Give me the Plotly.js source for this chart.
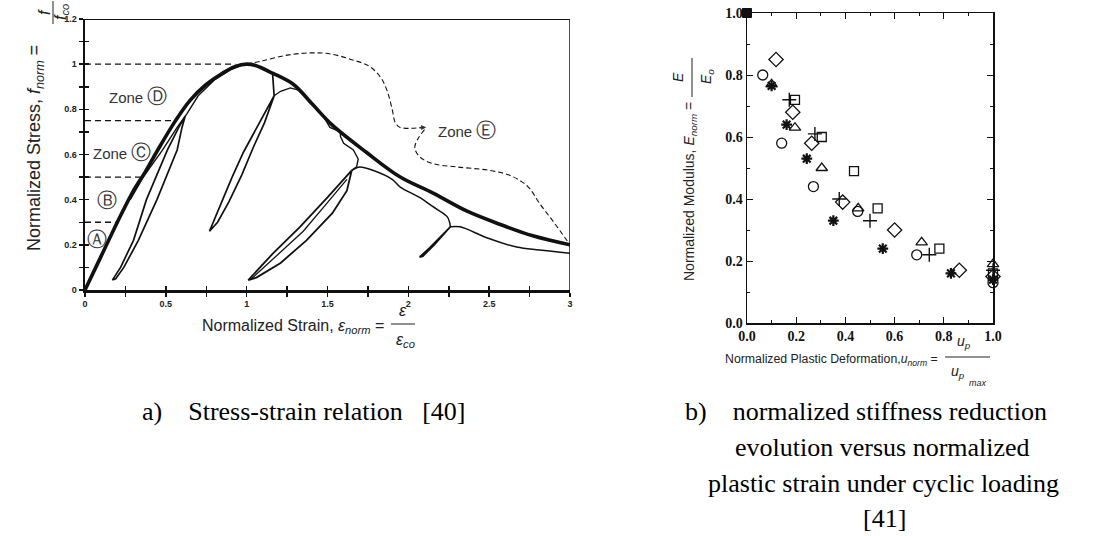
<!DOCTYPE html>
<html><head><meta charset="utf-8">
<script src="https://cdn.plot.ly/plotly-3.0.1.min.js"></script>
<style>html,body{margin:0;padding:0;background:#fff;}#chart{width:1108px;height:536px;}</style>
</head><body><div id="chart"></div>
<script>
// ---------- Panel a: stress-strain (normalized) ----------
const envX = [0,0.1,0.2,0.3,0.37,0.45,0.56,0.65,0.75,0.85,0.93,1.0,1.05,1.16,1.29,1.41,1.53,1.74,1.95,2.15,2.36,2.57,2.77,3.0];
const envY = [0,0.15,0.3,0.44,0.52,0.62,0.75,0.84,0.91,0.96,0.99,1.0,0.995,0.96,0.91,0.82,0.73,0.61,0.50,0.43,0.35,0.29,0.24,0.20];

const zoneEX1 = [1.0,1.1,1.25,1.4,1.52,1.65,1.76,1.83,1.87,1.90,1.92,1.95,2.10];
const zoneEY1 = [1.0,1.015,1.04,1.05,1.045,1.02,0.99,0.94,0.88,0.80,0.74,0.72,0.72];
const zoneEX2 = [2.10,2.06,2.04,2.07,2.15,2.3,2.5,2.62,2.70,2.75,2.81,2.90,3.0];
const zoneEY2 = [0.71,0.67,0.63,0.59,0.56,0.545,0.53,0.51,0.48,0.45,0.385,0.30,0.20];

const zoneLevels = [1.0,0.75,0.5,0.3];
const zoneLevelEnds = [0.93,0.54,0.34,0.19];

const loop1X = [0.62,0.60,0.57,0.445,0.33,0.24,0.19,0.17,0.22,0.30,0.38,0.51,0.58,0.62];
const loop1Y = [0.77,0.72,0.62,0.40,0.22,0.10,0.05,0.045,0.10,0.22,0.40,0.62,0.72,0.77];
const nearEnvX = [0.28,0.36,0.48,0.57,0.63,0.70,0.80,0.90,0.97];
const nearEnvY = [0.40,0.50,0.62,0.72,0.78,0.86,0.93,0.975,0.995];

const loop2X = [1.16,1.17,1.11,1.04,0.97,0.89,0.82,0.77,0.84,0.91,0.98,1.07,1.17];
const loop2Y = [0.96,0.86,0.74,0.63,0.51,0.39,0.30,0.26,0.38,0.50,0.61,0.73,0.86];
const jagX = [1.17,1.21,1.27,1.32,1.37,1.41,1.47,1.515,1.55,1.58,1.58,1.60,1.66,1.69,1.68,1.65];
const jagY = [0.86,0.88,0.895,0.885,0.85,0.82,0.775,0.72,0.71,0.70,0.68,0.65,0.62,0.58,0.545,0.53];

const loop3X = [1.65,1.62,1.53,1.37,1.21,1.06,1.01,1.16,1.33,1.50,1.65];
const loop3Y = [0.53,0.44,0.34,0.22,0.12,0.055,0.044,0.16,0.28,0.41,0.53];
const loop3InX = [1.03,1.20,1.35,1.48,1.56,1.62];
const loop3InY = [0.05,0.16,0.26,0.37,0.44,0.49];

const branch2X = [1.65,1.70,1.78,1.90,1.95,2.07,2.15,2.24,2.255,2.26];
const branch2Y = [0.53,0.545,0.53,0.49,0.456,0.41,0.37,0.325,0.30,0.28];
const branch3X = [2.26,2.32,2.49,2.67,2.81,3.0];
const branch3Y = [0.28,0.28,0.23,0.19,0.177,0.163];
const loop4X = [2.26,2.20,2.13,2.07,2.09,2.16,2.22,2.26];
const loop4Y = [0.28,0.235,0.185,0.146,0.15,0.20,0.25,0.28];

const xTickValsA = [0,0.25,0.5,0.75,1,1.25,1.5,1.75,2,2.25,2.5,2.75,3];
const xTickTextA = ['0','','0.5','','1','','1.5','','2','','2.5','','3'];
const yTickValsA = [0,0.1,0.2,0.3,0.4,0.5,0.6,0.7,0.8,0.9,1.0,1.1,1.2];
const yTickTextA = ['0','','0.2','','0.4','','0.6','','0.8','','1','','1.2'];

// ---------- Panel b: normalized modulus vs plastic deformation ----------
const circX = [0.064,0.141,0.27,0.45,0.69,1.0];
const circY = [0.80,0.58,0.44,0.36,0.22,0.13];
const triX  = [0.10,0.195,0.304,0.452,0.71,1.0];
const triY  = [0.77,0.63,0.50,0.37,0.26,0.19];
const sqX   = [0.195,0.304,0.435,0.531,0.782,1.0];
const sqY   = [0.72,0.60,0.49,0.37,0.24,0.16];
const diaX  = [0.118,0.186,0.263,0.389,0.60,0.863,1.0];
const diaY  = [0.85,0.68,0.58,0.39,0.30,0.17,0.15];
const plusX = [0.172,0.276,0.375,0.50,0.741,1.0];
const plusY = [0.72,0.61,0.40,0.33,0.22,0.17];
const astX  = [0.10,0.161,0.243,0.351,0.552,0.829,1.0];
const astY  = [0.765,0.64,0.53,0.33,0.24,0.16,0.14];
const startX = [0.0];
const startY = [1.0];

const W = 1108, H = 536;
const px = v => v / W;
const py = v => 1 - v / H;
const INK = '#111';

function line(x, y, w, dash, shape) {
  return {x: x, y: y, type: 'scatter', mode: 'lines', xaxis: 'x', yaxis: 'y',
    line: {color: INK, width: w, dash: dash || 'solid', shape: shape || 'linear'},
    hoverinfo: 'skip', showlegend: false, cliponaxis: false};
}
function pts(x, y, sym, size, lw) {
  return {x: x, y: y, type: 'scatter', mode: 'markers', xaxis: 'x2', yaxis: 'y2',
    marker: {symbol: sym, size: size, color: INK, line: {color: INK, width: lw}},
    hoverinfo: 'skip', showlegend: false, cliponaxis: false};
}

const traces = [];
zoneLevels.forEach((lv, i) => traces.push(line([0, zoneLevelEnds[i]], [lv, lv], 1.3, '6px,4px')));
traces.push(line(zoneEX1, zoneEY1, 1.1, '5px,3px', 'spline'));
traces.push(line(zoneEX2, zoneEY2, 1.1, '5px,3px', 'spline'));
traces.push(line(loop1X, loop1Y, 1.7));
traces.push(line(nearEnvX, nearEnvY, 1.4));
traces.push(line(loop2X, loop2Y, 1.7));
traces.push(line(jagX, jagY, 1.4));
traces.push(line(loop3X, loop3Y, 1.8));
traces.push(line(loop3InX, loop3InY, 1.3));
traces.push(line(branch2X, branch2Y, 1.5, 'solid', 'spline'));
traces.push(line(branch3X, branch3Y, 1.5, 'solid', 'spline'));
traces.push(line(loop4X, loop4Y, 1.8));
traces.push(line(envX, envY, 3.6, 'solid', 'spline'));
traces.push({x: [], y: [], type: 'scatter', xaxis: 'x3', yaxis: 'y3', showlegend: false, hoverinfo: 'skip'});

traces.push(pts(startX, startY, 'square', 9, 1));
traces.push(pts(circX, circY, 'circle-open', 10, 1.3));
traces.push(pts(triX, triY, 'triangle-up-open', 10, 1.3));
traces.push(pts(sqX, sqY, 'square-open', 9, 1.3));
traces.push(pts(diaX, diaY, 'diamond-open', 11, 1.3));
traces.push(pts(plusX, plusY, 'cross-thin-open', 10, 1.4));
traces.push(pts(astX, astY, 'asterisk-open', 9, 2.2));

const sansTick = {family: 'Liberation Sans, Arial, sans-serif', size: 9, color: '#222', weight: 'bold'};
const serifTick = {family: 'Liberation Serif, Times New Roman, serif', size: 14, color: '#111', weight: 'bold'};

function ann(text, x, y, size, opts) {
  return Object.assign({text: text, x: px(x), y: py(y), xref: 'paper', yref: 'paper', showarrow: false,
    xanchor: 'center', yanchor: 'middle',
    font: {family: 'Liberation Sans, Arial, sans-serif', size: size, color: '#222'}}, opts || {});
}
function cap(text, x, y, anchor) {
  return {text: text, x: px(x), y: py(y), xref: 'paper', yref: 'paper', showarrow: false,
    xanchor: anchor, yanchor: 'middle',
    font: {family: 'Liberation Serif, Times New Roman, serif', size: 26, color: '#000'}};
}
function bar(x0, y0, x1, y1) {
  return {type: 'line', xref: 'paper', yref: 'paper', x0: px(x0), y0: py(y0), x1: px(x1), y1: py(y1),
    line: {color: '#222', width: 1}};
}
const zoneFont = {family: 'Liberation Sans, Arial, sans-serif', size: 15, color: '#333'};
function zone(text, x, y) {
  return {text: text, x: x, y: y, xref: 'x', yref: 'y', showarrow: false, xanchor: 'center', yanchor: 'middle', font: zoneFont};
}
const S = t => '<span style="font-size:20px">' + t + '</span>';
const NB = n => '\u00a0'.repeat(n);

const layout = {
  width: W, height: H,
  margin: {l: 0, r: 0, t: 0, b: 0, pad: 0},
  paper_bgcolor: '#fff', plot_bgcolor: 'rgba(0,0,0,0)',
  showlegend: false,
  xaxis: {domain: [px(85), px(570)], range: [0, 3], anchor: 'y', tickmode: 'array', tickvals: xTickValsA, ticktext: xTickTextA,
    ticks: 'outside', ticklen: 4, tickwidth: 1.5, tickcolor: INK, showline: true, linewidth: 2.5, linecolor: INK,
    showgrid: false, zeroline: false, tickfont: sansTick, automargin: false, fixedrange: true},
  yaxis: {domain: [py(290), py(19)], range: [0, 1.2], anchor: 'x', tickmode: 'array', tickvals: yTickValsA, ticktext: yTickTextA,
    ticks: 'outside', ticklen: 4, tickwidth: 1.5, tickcolor: INK, showline: true, linewidth: 2.5, linecolor: INK,
    showgrid: false, zeroline: false, tickfont: sansTick, automargin: false, fixedrange: true},
  xaxis3: {overlaying: 'x', anchor: 'y3', range: [0, 3], tickmode: 'array', tickvals: xTickValsA, showticklabels: false,
    ticks: 'inside', ticklen: 4, tickwidth: 1.5, tickcolor: INK, showline: false, showgrid: false, zeroline: false, automargin: false},
  yaxis3: {overlaying: 'y', anchor: 'x3', range: [0, 1.2], tickmode: 'array', tickvals: yTickValsA, showticklabels: false,
    ticks: 'inside', ticklen: 4, tickwidth: 1.5, tickcolor: INK, showline: false, showgrid: false, zeroline: false, automargin: false},
  xaxis2: {domain: [px(747), px(993)], range: [0, 1], anchor: 'y2', tickmode: 'linear', tick0: 0, dtick: 0.2, tickformat: '.1f',
    ticks: 'inside', ticklen: 6, tickwidth: 1, tickcolor: INK, minor: {dtick: 0.1, ticks: 'inside', ticklen: 3, tickcolor: INK},
    showline: true, linewidth: 1.5, linecolor: INK, mirror: 'allticks', showgrid: false, zeroline: false,
    tickfont: serifTick, automargin: false, fixedrange: true},
  yaxis2: {domain: [py(323), py(13)], range: [0, 1], anchor: 'x2', tickmode: 'linear', tick0: 0, dtick: 0.2, tickformat: '.1f',
    ticks: 'inside', ticklen: 6, tickwidth: 1, tickcolor: INK, minor: {dtick: 0.1, ticks: 'inside', ticklen: 3, tickcolor: INK},
    showline: true, linewidth: 1.5, linecolor: INK, mirror: 'allticks', showgrid: false, zeroline: false,
    tickfont: serifTick, automargin: false, fixedrange: true},
  shapes: [
    {type: 'line', xref: 'x', yref: 'y', x0: 0, y0: 1.2, x1: 3, y1: 1.2, line: {color: INK, width: 2}},
    {type: 'line', xref: 'x', yref: 'y', x0: 3, y0: 0, x1: 3, y1: 1.2, line: {color: INK, width: 1.5}},
    bar(391, 324, 415, 324),
    bar(945, 357, 990, 357),
    bar(692, 58, 692, 97),
    bar(53, 1, 53, 24)
  ],
  annotations: [
    zone('Zone ' + S('Ⓓ'), 0.325, 0.86),
    zone('Zone ' + S('Ⓒ'), 0.23, 0.61),
    zone(S('Ⓑ'), 0.136, 0.40),
    zone(S('Ⓐ'), 0.074, 0.225),
    zone('Zone ' + S('Ⓔ'), 2.36, 0.71),
    {x: 2.11, y: 0.72, ax: 2.06, ay: 0.72, xref: 'x', yref: 'y', axref: 'x', ayref: 'y', text: '', showarrow: true,
     arrowhead: 2, arrowsize: 1, arrowwidth: 1, arrowcolor: '#333'},
    // panel a axis titles
    ann('Normalized Strain, <i>ε</i><sub><i>norm</i></sub> =', 386, 326, 16, {xanchor: 'right'}),
    ann('<i>ε</i>', 403, 310, 16),
    ann('<i>ε</i><sub><i>co</i></sub>', 405, 340, 16),
    ann('Normalized Stress, <i>f</i><sub><i>norm</i></sub> =', 35, 148, 18, {textangle: -90}),
    ann('<i>f</i>', 45, 12, 16, {textangle: -90}),
    ann('<i>f</i><sub><i>co</i></sub>', 62, 12, 16, {textangle: -90}),
    // panel b axis titles
    ann('Normalized Plastic Deformation,<i>u</i><sub><i>norm</i></sub> =', 940, 360, 12.3, {xanchor: 'right'}),
    ann('<i>u</i><sub><i>p</i></sub>', 964, 342, 14),
    ann('<i>u</i><sub><i>p</i></sub>', 958, 372, 14),
    ann('<i>max</i>', 978, 383, 9),
    ann('Normalized Modulus, <i>E</i><sub><i>norm</i></sub> =', 690, 192, 14, {textangle: -90}),
    ann('<i>E</i>', 678, 77, 14, {textangle: -90}),
    ann('<i>E</i><sub><i>o</i></sub>', 707, 77, 14, {textangle: -90}),
    // captions
    cap('a)' + NB(4) + 'Stress-strain relation' + NB(3) + '[40]', 140, 411, 'left'),
    cap('b)' + NB(4) + 'normalized stiffness reduction', 683, 411, 'left'),
    cap('evolution versus normalized', 882, 447, 'center'),
    cap('plastic strain under cyclic loading', 883, 483, 'center'),
    cap('[41]', 884, 518, 'center')
  ]
};

Plotly.newPlot('chart', traces, layout, {staticPlot: true, displayModeBar: false});
</script>
</body></html>
